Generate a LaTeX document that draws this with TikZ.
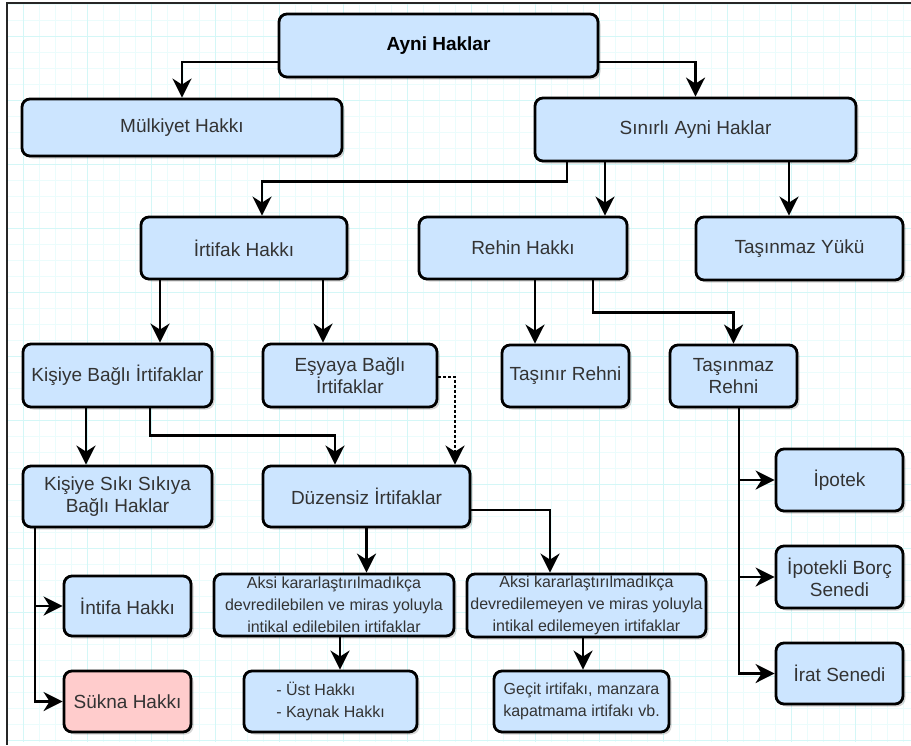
\documentclass[tikz,border=0pt]{standalone}
\usepackage{fontspec}
\setmainfont{Liberation Sans}
\usetikzlibrary{arrows.meta,shadows}
\definecolor{boxblue}{HTML}{CCE5FF}
\definecolor{boxpink}{HTML}{FFCCCC}
\definecolor{txt}{HTML}{333333}
\definecolor{gminor}{HTML}{EBFCFC}
\definecolor{gmajor}{HTML}{D4F7F7}
\begin{document}
\begin{tikzpicture}[x=1pt,y=-1pt,
  box/.style={draw=black, line width=2.8pt, rounded corners=8pt, fill=boxblue, align=center, text=txt,
    font=\fontsize{19}{22}\selectfont, inner sep=1pt,
    general shadow={fill=black, opacity=0.16, shadow xshift=2.5pt, shadow yshift=-2.5pt}},
  small/.style={font=\fontsize{16}{22}\selectfont},
  arr/.style={draw=black, line width=2.8pt, -{Stealth[length=19pt,width=19pt,inset=6pt]}},
  dotline/.style={dash pattern=on 2.5pt off 2.5pt},
  gridminor/.style={draw=gminor, line width=0.8pt},
  gridmajor/.style={draw=gmajor, line width=1pt}]
\useasboundingbox (0,0) rectangle (911,745);
\fill[white] (0,0) rectangle (911,745);
% grid
\foreach \x in {7,23,...,911} \draw[gridminor] (\x,3) -- (\x,742);
\foreach \y in {4,20,...,742} \draw[gridminor] (7,\y) -- (911,\y);
\foreach \x in {23,87,...,911} \draw[gridmajor] (\x,3) -- (\x,742);
\foreach \y in {36,100,...,742} \draw[gridmajor] (7,\y) -- (911,\y);
% frame
\draw[line width=1.6pt, draw=black!85] (911,3) -- (7,3) -- (7,745);
% nodes
\node[box, minimum width=319pt, minimum height=63pt, font=\fontsize{19}{22}\selectfont\bfseries, text=black] (ayni) at (438.5,45.5) {Ayni Haklar};
\node[box, minimum width=320pt, minimum height=57pt] (mulk) at (182,127.5) {Mülkiyet Hakkı};
\node[box, minimum width=321pt, minimum height=63pt] (sinirli) at (695.5,129.5) {Sınırlı Ayni Haklar};
\node[box, minimum width=206pt, minimum height=62pt] (irtifak) at (244,248) {İrtifak Hakkı};
\node[box, minimum width=208pt, minimum height=62pt] (rehin) at (523,248) {Rehin Hakkı};
\node[box, minimum width=207pt, minimum height=63pt] (yuku) at (799.5,248.5) {Taşınmaz Yükü};
\node[box, minimum width=189pt, minimum height=63pt] (kisiye) at (117.5,375.5) {Kişiye Bağlı İrtifaklar};
\node[box, minimum width=174pt, minimum height=63pt] (esyaya) at (350,375.5) {Eşyaya Bağlı\\İrtifaklar};
\node[box, minimum width=127pt, minimum height=62pt] (tasinir) at (565.5,376) {Taşınır Rehni};
\node[box, minimum width=127pt, minimum height=62pt] (trehni) at (733.5,376) {Taşınmaz\\Rehni};
\node[box, minimum width=189pt, minimum height=61pt] (siki) at (117.5,496.5) {Kişiye Sıkı Sıkıya\\Bağlı Haklar};
\node[box, minimum width=207pt, minimum height=61pt] (duzensiz) at (366.5,496.5) {Düzensiz İrtifaklar};
\node[box, minimum width=127pt, minimum height=62pt] (ipotek) at (839.5,480) {İpotek};
\node[box, minimum width=127pt, minimum height=62pt] (borc) at (839.5,577) {İpotekli Borç\\Senedi};
\node[box, minimum width=127pt, minimum height=61pt] (irat) at (839.5,673.5) {İrat Senedi};
\node[box, small, minimum width=240pt, minimum height=62pt] (aksi1) at (334,605) {Aksi kararlaştırılmadıkça\\devredilebilen ve miras yoluyla\\intikal edilebilen irtifaklar};
\node[box, small, minimum width=239pt, minimum height=63pt] (aksi2) at (586.5,605.5) {Aksi kararlaştırılmadıkça\\devredilemeyen ve miras yoluyla\\intikal edilemeyen irtifaklar};
\node[box, minimum width=127pt, minimum height=60pt] (intifa) at (127.5,606) {İntifa Hakkı};
\node[box, fill=boxpink, minimum width=127pt, minimum height=61pt] (sukna) at (127.5,701.5) {Sükna Hakkı};
\node[box, small, align=left, minimum width=173pt, minimum height=61pt] (ust) at (330.5,701.5) {- Üst Hakkı\\- Kaynak Hakkı};
\node[box, small, minimum width=175pt, minimum height=61pt] (gecit) at (581.5,701.5) {Geçit irtifakı, manzara\\kapatmama irtifakı vb.};
% connectors
\draw[arr] ([yshift=-16.5pt]ayni.west) -| (mulk);
\draw[arr] ([yshift=-16.5pt]ayni.east) -| (sinirli);
\draw[arr] ([xshift=-128.5pt]sinirli.south) -- ++(0,19) -| ([xshift=18pt]irtifak.north);
\draw[arr] ([xshift=-90.5pt]sinirli.south) -- ([xshift=82pt]rehin.north);
\draw[arr] ([xshift=93.5pt]sinirli.south) -- ([xshift=-10.5pt]yuku.north);
\draw[arr] ([xshift=-84pt]irtifak.south) -- ([xshift=42.5pt]kisiye.north);
\draw[arr] ([xshift=79pt]irtifak.south) -- ([xshift=-27pt]esyaya.north);
\draw[arr] ([xshift=12pt]rehin.south) -- ([xshift=-30.5pt]tasinir.north);
\draw[arr] ([xshift=70pt]rehin.south) -- ++(0,32) -| (trehni);
\draw[arr] ([xshift=-31.5pt]kisiye.south) -- ([xshift=-31.5pt]siki.north);
\draw[arr] ([xshift=32.5pt]kisiye.south) -- ++(0,27) -| ([xshift=-31.5pt]duzensiz.north);
\draw[arr, dotline] ([yshift=-1.5pt]esyaya.east) -| ([xshift=88.5pt]duzensiz.north);
\draw[arr] (duzensiz.south) -- ([xshift=32.5pt]aksi1.north);
\draw[arr] ([yshift=-13.5pt]duzensiz.east) -| ([xshift=-36.5pt]aksi2.north);
\draw[arr] ([xshift=6pt]aksi1.south) -- ([xshift=9.5pt]ust.north);
\draw[arr] ([xshift=-3.5pt]aksi2.south) -- ([xshift=1.5pt]gecit.north);
\draw[arr] ([xshift=5.5pt]trehni.south) |- (ipotek);
\draw[arr] ([xshift=5.5pt]trehni.south) |- (borc);
\draw[arr] ([xshift=5.5pt]trehni.south) |- (irat);
\draw[arr] ([xshift=-82.5pt]siki.south) |- (intifa);
\draw[arr] ([xshift=-82.5pt]siki.south) |- (sukna);
\end{tikzpicture}
\end{document}
